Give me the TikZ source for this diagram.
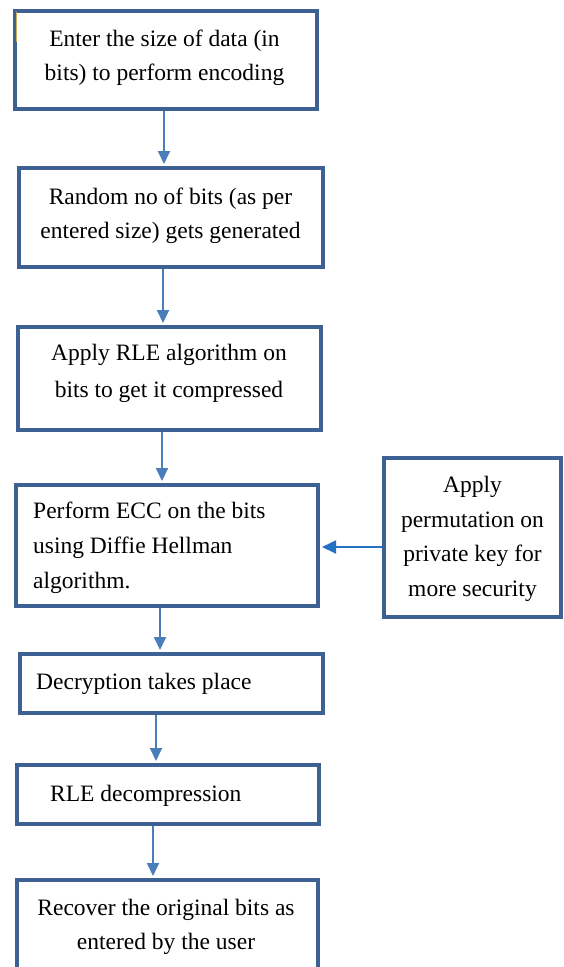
\documentclass[tikz,border=0pt]{standalone}
\usepackage{fontspec}
\setmainfont{Liberation Serif}
\usetikzlibrary{arrows.meta,calc}
\definecolor{boxblue}{HTML}{3C6192}
\definecolor{arrblue}{HTML}{4A7EBB}
\definecolor{sideblue}{HTML}{2271C3}
\definecolor{tanmark}{HTML}{D9A55A}
\tikzset{
  stepbox/.style={draw=boxblue,line width=4pt,rectangle,inner sep=0pt,fill=white},
  txt/.style={inner sep=0pt,font=\fontsize{23.5}{34}\selectfont,align=center},
  txtl/.style={inner sep=0pt,font=\fontsize{23.5}{35}\selectfont,align=left},
  arr/.style={draw=arrblue,line width=1.8pt,-{Triangle[width=12pt,length=13pt]},shorten >=2pt},
  sarr/.style={draw=sideblue,line width=1.8pt,-{Triangle[width=13pt,length=14pt]},shorten >=2pt}
}
\begin{document}
\begin{tikzpicture}[x=1pt,y=-1pt]
\useasboundingbox (0,0) rectangle (564,967);
\clip (0,0) rectangle (564,967);
\fill[white] (0,0) rectangle (564,967);
% boxes
\node[stepbox,minimum width=302pt,minimum height=98pt] (b1) at (166,60) {};
\node[stepbox,minimum width=304pt,minimum height=99pt] (b2) at (171,217.5) {};
\node[stepbox,minimum width=303pt,minimum height=103pt] (b3) at (169.5,378.5) {};
\node[stepbox,minimum width=302pt,minimum height=121pt] (b4) at (167,545.5) {};
\node[stepbox,minimum width=177pt,minimum height=159pt] (s1) at (472.5,537.5) {};
\node[stepbox,minimum width=303pt,minimum height=59pt] (b5) at (171.5,683.5) {};
\node[stepbox,minimum width=302pt,minimum height=59pt] (b6) at (168,794.5) {};
\node[stepbox,minimum width=301pt,minimum height=120pt] (b7) at (167.5,940) {};
% texts (anchor base = baseline of last line)
\node[txt,anchor=base] (t1) at ($(b1.center)+(-1.5,20.5)$) {Enter the size of data (in\\bits) to perform encoding};
\node[txt,anchor=base] (t2) at ($(b2.center)+(-0.5,21)$) {Random no of bits (as per\\entered size) gets generated};
\node[txt,anchor=base,font=\fontsize{23.5}{36.5}\selectfont] (t3) at ($(b3.center)+(-0.5,18.5)$) {Apply RLE algorithm on\\bits to get it compressed};
\node[txtl,anchor=base west] (t4) at ($(b4.west)+(19,42.5)$) {Perform ECC on the bits\\using Diffie Hellman\\algorithm.};
\node[txt,anchor=base,font=\fontsize{23.5}{34.5}\selectfont] (t5) at ($(s1.center)+(0,58.5)$) {Apply\\permutation on\\private key for\\more security};
\node[txt,anchor=base west] (t6) at ($(b5.west)+(18,6)$) {Decryption takes place};
\node[txt,anchor=base west] (t7) at ($(b6.west)+(35,6.5)$) {RLE decompression};
\node[txt,anchor=base] (t8) at ($(b7.center)+(-1.5,9)$) {Recover the original bits as\\entered by the user};
% arrow columns
\coordinate (c1) at (164,0);
\coordinate (c2) at (163,0);
\coordinate (c3) at (162,0);
\coordinate (c4) at (160,0);
\coordinate (c5) at (156,0);
\coordinate (c6) at (153,0);
\draw[arr] (b1.south -| c1) -- (b2.north -| c1);
\draw[arr] (b2.south -| c2) -- (b3.north -| c2);
\draw[arr] (b3.south -| c3) -- (b4.north -| c3);
\draw[arr] (b4.south -| c4) -- (b5.north -| c4);
\draw[arr] (b5.south -| c5) -- (b6.north -| c5);
\draw[arr] (b6.south -| c6) -- (b7.north -| c6);
\coordinate (sy) at (0,547);
\draw[sarr] (s1.west |- sy) -- (b4.east |- sy);
% small mark
\draw[tanmark,line width=1.2pt] (16.5,12) -- (16.5,42);
\end{tikzpicture}
\end{document}
